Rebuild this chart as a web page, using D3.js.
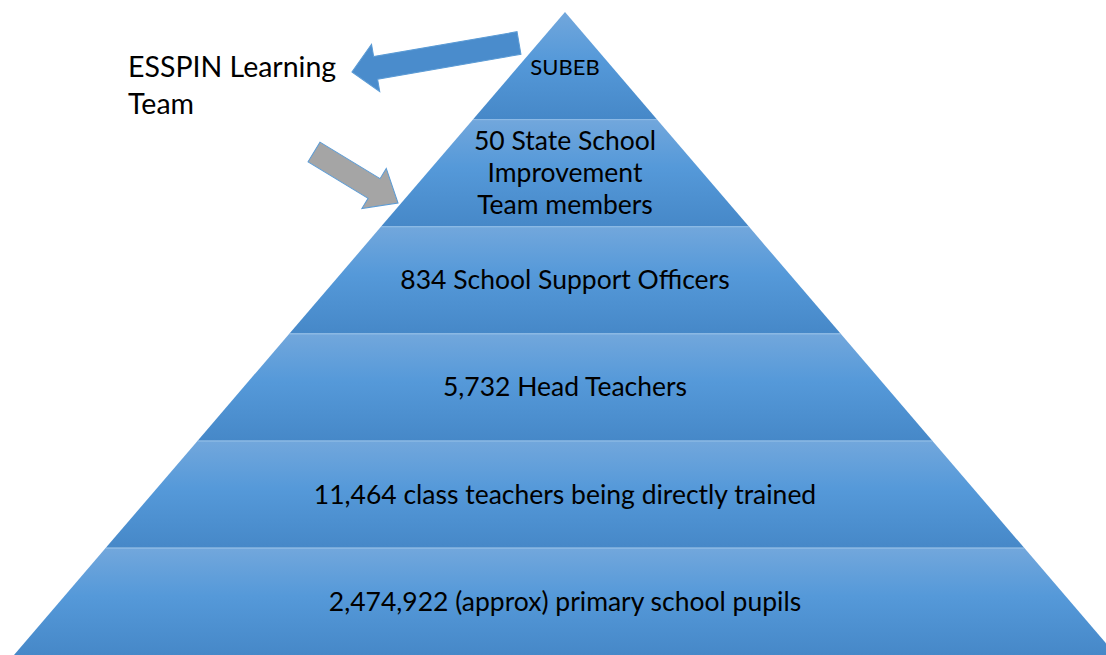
<!DOCTYPE html>
<html>
<head>
<meta charset="utf-8">
<script src="https://cdn.jsdelivr.net/npm/d3@7"></script>
<style>
  body { margin: 0; background: #fff; }
  svg { display: block; }
  text { font-family: Lato, "Open Sans", sans-serif; fill: #000; }
</style>
</head>
<body>
<div id="chart"></div>
<script>
// pyramid tiers, top to bottom
const tiers = ['top', 'sit', 'sso', 'head', 'class', 'pupils'];
const tierLines = [
    ['SUBEB'],
    ['50 State School', 'Improvement', 'Team members'],
    ['834 School Support Officers'],
    ['5,732 Head Teachers'],
    ['11,464 class teachers being directly trained'],
    ['2,474,922 (approx) primary school pupils']
];
const sideNote = ['ESSPIN Learning', 'Team'];

const width = 1106, height = 655;

const svg = d3.select('#chart').append('svg')
    .attr('width', width)
    .attr('height', height);

const defs = svg.append('defs');
const grad = defs.append('linearGradient')
    .attr('id', 'tierGrad')
    .attr('x1', 0).attr('y1', 0).attr('x2', 0).attr('y2', 1);
grad.append('stop').attr('offset', '0%').attr('stop-color', '#72a7dc');
grad.append('stop').attr('offset', '45%').attr('stop-color', '#5599d9');
grad.append('stop').attr('offset', '100%').attr('stop-color', '#4688c8');

const apexX = 565, apexY = 12, baseY = 655;

const y = d3.scaleBand()
    .domain(tiers)
    .range([apexY, baseY])
    .padding(0);

// half-width of the pyramid at a given height
const half = d3.scaleLinear()
    .domain([apexY, baseY])
    .range([0, 551]);

const g = svg.append('g');

g.selectAll('path.tier')
    .data(tiers)
    .enter()
    .append('path')
    .attr('class', 'tier')
    .attr('fill', 'url(#tierGrad)')
    .attr('d', (d) => {
        const y0 = y(d), y1 = y(d) + y.bandwidth();
        return `M${apexX - half(y0)},${y0}L${apexX + half(y0)},${y0}` +
            `L${apexX + half(y1)},${y1}L${apexX - half(y1)},${y1}Z`;
    });

// thin light line at the top of each tier
g.selectAll('line.sep')
    .data(tiers.slice(1))
    .enter()
    .append('line')
    .attr('class', 'sep')
    .attr('x1', (d) => apexX - half(y(d)))
    .attr('x2', (d) => apexX + half(y(d)))
    .attr('y1', (d) => y(d) + 0.5)
    .attr('y2', (d) => y(d) + 0.5)
    .attr('stroke', '#8dbbe6')
    .attr('stroke-width', 1);

// tier labels
const lineH = 32;
tiers.forEach((t, i) => {
    const lines = tierLines[i];
    const cy = (i === 0) ? y(t) + y.bandwidth() * 0.5 + 2 : y(t) + y.bandwidth() / 2;
    const fs = (i === 0) ? 22 : 26.5;
    lines.forEach((ln, j) => {
        g.append('text')
            .attr('x', apexX)
            .attr('y', cy + (j - (lines.length - 1) / 2) * lineH)
            .attr('dy', '0.35em')
            .attr('text-anchor', 'middle')
            .attr('font-size', fs)
            .text(ln);
    });
});

// side note
svg.selectAll('text.note')
    .data(sideNote)
    .enter()
    .append('text')
    .attr('class', 'note')
    .attr('x', 128)
    .attr('y', (d, i) => 77 + i * 37)
    .attr('font-size', 28.5)
    .text((d) => d);

/**
 * block arrow pointing along +x in local coords, tip at origin
 */
function arrowPath(len, shaftW, headW, headL) {
    const p = d3.path();
    p.moveTo(0, 0);
    p.lineTo(-headL, -headW / 2);
    p.lineTo(-headL, -shaftW / 2);
    p.lineTo(-len, -shaftW / 2);
    p.lineTo(-len, shaftW / 2);
    p.lineTo(-headL, shaftW / 2);
    p.lineTo(-headL, headW / 2);
    p.closePath();
    return p.toString();
}

function drawArrow(from, to, shaftW, headW, headL, fill, stroke) {
    const dx = to[0] - from[0], dy = to[1] - from[1];
    const len = Math.sqrt(dx * dx + dy * dy);
    const ang = Math.atan2(dy, dx) * 180 / Math.PI;
    svg.append('path')
        .attr('d', arrowPath(len, shaftW, headW, headL))
        .attr('transform', `translate(${to[0]},${to[1]}) rotate(${ang})`)
        .attr('fill', fill)
        .attr('stroke', stroke)
        .attr('stroke-width', 1);
}

drawArrow([519, 43], [352, 72], 23, 48, 24, '#4a8ccc', '#5b9bd5');
drawArrow([314, 152], [398, 203], 23, 47, 28, '#a5a5a5', '#5b9bd5');
</script>
</body>
</html>
